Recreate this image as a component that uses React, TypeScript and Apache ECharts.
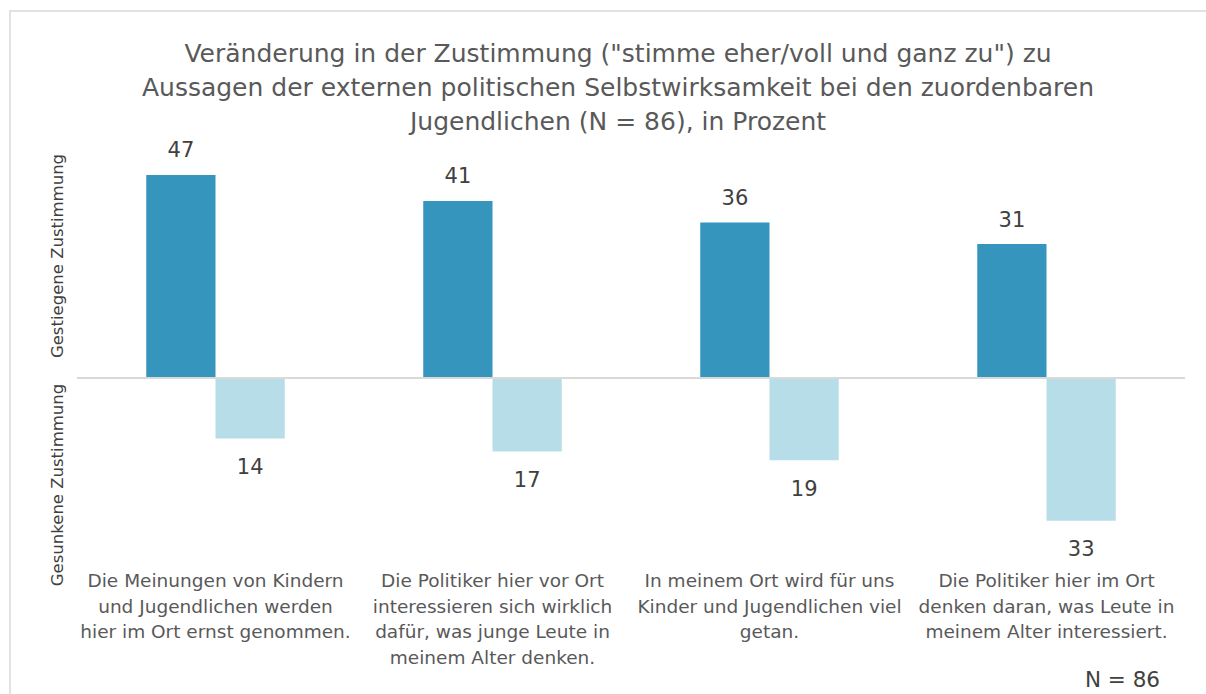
import React, { useEffect, useRef } from "react";
import * as echarts from "echarts";

const titleText =
  'Veränderung in der Zustimmung ("stimme eher/voll und ganz zu") zu\nAussagen der externen politischen Selbstwirksamkeit bei den zuordenbaren\nJugendlichen (N = 86), in Prozent';

const categories = [
  "Die Meinungen von Kindern\nund Jugendlichen werden\nhier im Ort ernst genommen.",
  "Die Politiker hier vor Ort\ninteressieren sich wirklich\ndafür, was junge Leute in\nmeinem Alter denken.",
  "In meinem Ort wird für uns\nKinder und Jugendlichen viel\ngetan.",
  "Die Politiker hier im Ort\ndenken daran, was Leute in\nmeinem Alter interessiert.",
];

const gestiegen = [47, 41, 36, 31];
const gesunken = [-14, -17, -19, -33];

const axisNameUp = "Gestiegene Zustimmung";
const axisNameDown = "Gesunkene Zustimmung";
const footnote = "N = 86";

const FONT = "DejaVu Sans";

export default function App() {
  const ref = useRef<HTMLDivElement>(null);
  useEffect(() => {
    if (!ref.current) return;
    const chart = echarts.init(ref.current, undefined, { renderer: "svg" });
    chart.setOption({
      animation: false,
      backgroundColor: "#ffffff",
      textStyle: { fontFamily: FONT },
      title: {
        text: titleText,
        left: 613,
        top: 31,
        textAlign: "center",
        textStyle: {
          fontFamily: FONT,
          fontSize: 25,
          fontWeight: "normal",
          color: "#595959",
          lineHeight: 34,
        },
      },
      grid: { left: 77, right: 21, top: 162, bottom: 143 },
      xAxis: {
        type: "category",
        data: categories,
        axisLine: { show: false },
        axisTick: { show: false },
        axisLabel: {
          interval: 0,
          margin: 17,
          fontFamily: FONT,
          fontSize: 18.5,
          lineHeight: 25.5,
          color: "#595959",
          align: "center",
        },
      },
      yAxis: {
        type: "value",
        min: -40,
        max: 50,
        axisLabel: { show: false },
        axisLine: { show: false },
        axisTick: { show: false },
        splitLine: { show: false },
      },
      series: [
        {
          type: "bar",
          name: "Gestiegen",
          data: gestiegen,
          barGap: "0%",
          barCategoryGap: "50%",
          itemStyle: { color: "#3595BC" },
          label: {
            show: true,
            position: "top",
            distance: 14,
            fontFamily: FONT,
            fontSize: 21,
            color: "#404040",
          },
          markLine: {
            silent: true,
            symbol: "none",
            label: { show: false },
            lineStyle: { color: "#d9d9d9", width: 2, type: "solid" },
            data: [{ yAxis: 0 }],
          },
        },
        {
          type: "bar",
          name: "Gesunken",
          data: gesunken,
          itemStyle: { color: "#B7DDE8" },
          label: {
            show: true,
            position: "bottom",
            distance: 18,
            fontFamily: FONT,
            fontSize: 21,
            color: "#404040",
            formatter: (p: any) => String(Math.abs(p.value)),
          },
        },
      ],
      graphic: [
        {
          type: "rect",
          shape: { x: 10, y: 11, width: 1210, height: 720 },
          style: { fill: "none", stroke: "#d9d9d9", lineWidth: 1.5 },
          silent: true,
        },
        {
          type: "text",
          x: 57,
          y: 256,
          rotation: Math.PI / 2,
          style: {
            text: axisNameUp,
            fontFamily: FONT,
            fontSize: 16.5,
            fill: "#404040",
            align: "center",
            verticalAlign: "middle",
          },
        },
        {
          type: "text",
          x: 57,
          y: 485,
          rotation: Math.PI / 2,
          style: {
            text: axisNameDown,
            fontFamily: FONT,
            fontSize: 16.5,
            fill: "#404040",
            align: "center",
            verticalAlign: "middle",
          },
        },
        {
          type: "text",
          x: 1160,
          y: 679,
          style: {
            text: footnote,
            fontFamily: FONT,
            fontSize: 21.5,
            fill: "#404040",
            align: "right",
            verticalAlign: "middle",
          },
        },
      ],
    });
    return () => chart.dispose();
  }, []);
  return (
    <div
      ref={ref}
      style={{ position: "absolute", left: 0, top: 0, width: 1206, height: 694 }}
    />
  );
}
